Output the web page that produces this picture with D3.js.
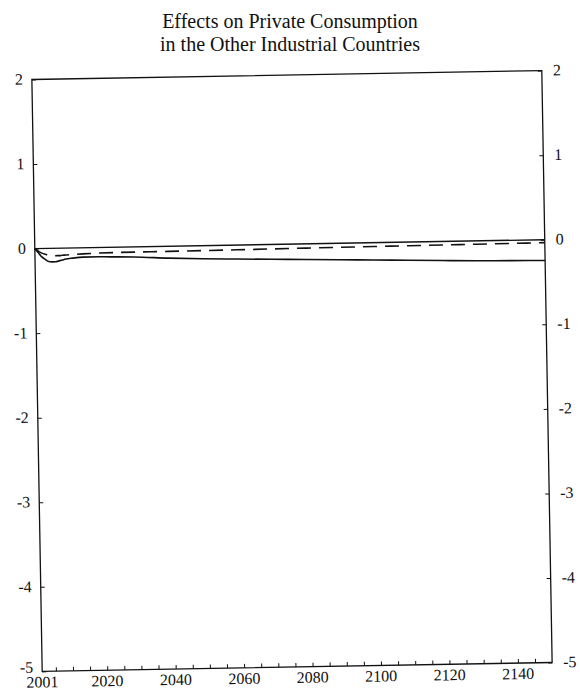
<!DOCTYPE html>
<html>
<head>
<meta charset="utf-8">
<script src="https://cdn.jsdelivr.net/npm/d3@7"></script>
<style>
  body { margin: 0; background: #fff; }
</style>
</head>
<body>
<div id="chart"></div>
<script>

// data
var years = [2001, 2002, 2003, 2004, 2005, 2006, 2007, 2008, 2009, 2010, 2012, 2015, 2020, 2025, 2030, 2040, 2050, 2060, 2070, 2080, 2090, 2100, 2110, 2120, 2130, 2140, 2150];
var solidVals = [0, -0.05, -0.10, -0.13, -0.155, -0.16, -0.16, -0.15, -0.14, -0.13, -0.12, -0.11, -0.11, -0.115, -0.12, -0.14, -0.155, -0.165, -0.175, -0.185, -0.195, -0.205, -0.215, -0.225, -0.235, -0.24, -0.245];
var dashedVals = [0, -0.03, -0.055, -0.07, -0.08, -0.085, -0.088, -0.088, -0.085, -0.082, -0.078, -0.072, -0.066, -0.063, -0.062, -0.06, -0.058, -0.056, -0.053, -0.05, -0.048, -0.045, -0.043, -0.041, -0.039, -0.037, -0.035];

var yTicks = [2, 1, 0, -1, -2, -3, -4, -5];
var xLabels = [2001, 2020, 2040, 2060, 2080, 2100, 2120, 2140];
var xMinor = d3.range(2005, 2150, 5);
var titleLines = ["Effects on Private Consumption", "in the Other Industrial Countries"];

var FONT = '"Liberation Serif", "Times New Roman", Times, "DejaVu Serif", "Noto Serif", serif';

var W = 580, H = 694;
var margin = {top: 75, right: 33, bottom: 27, left: 37}
	,width = W - margin.left - margin.right
	,height = H - margin.top - margin.bottom

var x = d3.scaleLinear()
	.domain([2001, 2150])
	.range([0, width]);

var y = d3.scaleLinear()
	.domain([-5, 2])
	.range([height, 0]);

var svg = d3.select('#chart')
	.append('svg')
	.attr('width', W)
	.attr('height', H)
	.style('font-family', FONT)

// title (kept level)
svg.selectAll('.title')
	.data(titleLines)
	.enter().append('text')
	.attr('class', 'title')
	.attr('x', 290)
	.attr('y', function (d, i) { return 28 + i * 23; })
	.attr('text-anchor', 'middle')
	.style('font-family', FONT)
	.attr('font-size', 20)
	.attr('fill', '#111')
	.text(function (d) { return d; });

// the scan is a little tilted, so tilt the plot the same way
var page = svg.append('g')
	.attr('transform', 'rotate(-1,292,371)')

var main = page.append('g')
	.attr('transform', 'translate(' + margin.left + ',' + margin.top + ')')

// frame
main.append('rect')
	.attr('x', 0)
	.attr('y', 0)
	.attr('width', width)
	.attr('height', height)
	.attr('fill', 'none')
	.attr('stroke', '#111')
	.attr('stroke-width', 1.3)

// left axis, ticks inside
var left = main.append('g')
	.call(d3.axisRight(y).tickValues(yTicks).tickSize(4).tickFormat(''))
left.select('.domain').remove();
left.selectAll('line').attr('stroke', '#111');
left.selectAll('.lab')
	.data(yTicks)
	.enter().append('text')
	.attr('class', 'lab')
	.attr('x', -9)
	.attr('y', function (d) { return y(d) + (d === -5 ? 1 : 5); })
	.attr('text-anchor', 'end')
	.style('font-family', FONT)
	.attr('font-size', 16)
	.attr('fill', '#111')
	.text(function (d) { return d; });

// right axis, ticks inside
var right = main.append('g')
	.attr('transform', 'translate(' + width + ',0)')
	.call(d3.axisLeft(y).tickValues(yTicks).tickSize(4).tickFormat(''))
right.select('.domain').remove();
right.selectAll('line').attr('stroke', '#111');
right.selectAll('.lab')
	.data(yTicks)
	.enter().append('text')
	.attr('class', 'lab')
	.attr('x', 11)
	.attr('y', function (d) { return y(d) + 5; })
	.attr('text-anchor', 'start')
	.style('font-family', FONT)
	.attr('font-size', 16)
	.attr('fill', '#111')
	.text(function (d) { return d; });

// bottom axis, small ticks pointing up
var bottom = main.append('g')
	.attr('transform', 'translate(0,' + height + ')')
	.call(d3.axisTop(x).tickValues(xMinor).tickSize(4).tickFormat(''))
bottom.select('.domain').remove();
bottom.selectAll('line').attr('stroke', '#111');
bottom.selectAll('.lab')
	.data(xLabels)
	.enter().append('text')
	.attr('class', 'lab')
	.attr('x', function (d) { return x(d); })
	.attr('y', 16)
	.attr('text-anchor', 'middle')
	.style('font-family', FONT)
	.attr('font-size', 16)
	.attr('fill', '#111')
	.text(function (d) { return d; });

// zero line
main.append('line')
	.attr('x1', x(2001))
	.attr('x2', x(2150))
	.attr('y1', y(0))
	.attr('y2', y(0))
	.attr('stroke', '#111')
	.attr('stroke-width', 1.4)

var line = d3.line()
	.x(function (d) { return x(d[0]); })
	.y(function (d) { return y(d[1]); })
	.curve(d3.curveMonotoneX);

main.append('path')
	.datum(d3.zip(years, solidVals))
	.attr('d', line)
	.attr('fill', 'none')
	.attr('stroke', '#111')
	.attr('stroke-width', 1.6)

main.append('path')
	.datum(d3.zip(years, dashedVals))
	.attr('d', line)
	.attr('fill', 'none')
	.attr('stroke', '#111')
	.attr('stroke-width', 1.6)
	.attr('stroke-dasharray', '14,8')

</script>
</body>
</html>
